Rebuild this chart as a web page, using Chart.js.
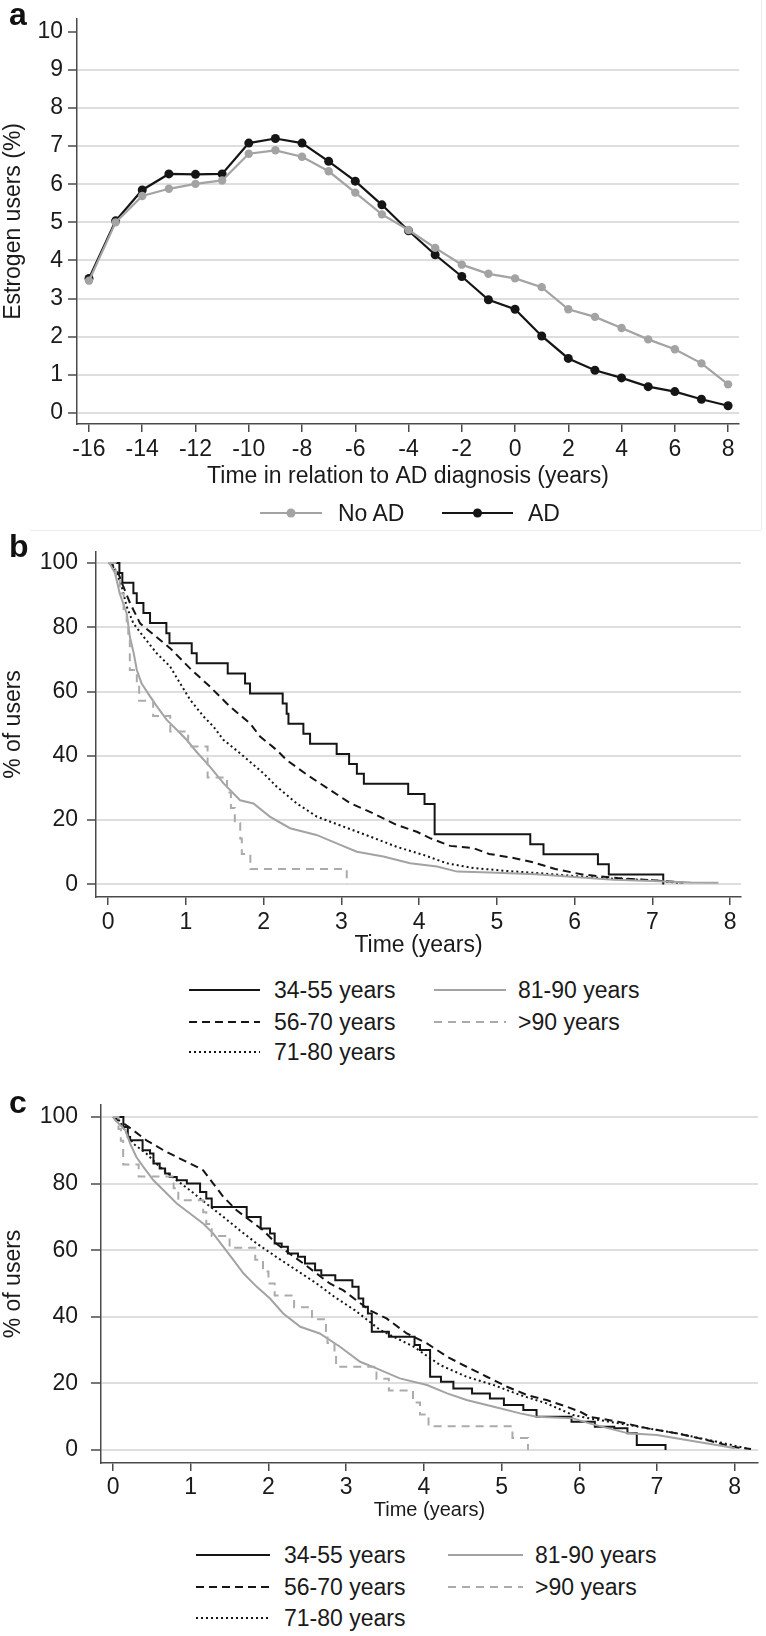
<!DOCTYPE html>
<html>
<head>
<meta charset="utf-8">
<script src="https://cdn.jsdelivr.net/npm/chart.js@4.4.1/dist/chart.umd.min.js"></script>
<style>
html,body{margin:0;padding:0;background:#fff;}
body{width:766px;height:1636px;position:relative;overflow:hidden;font-family:"Liberation Sans",Arial,Helvetica,sans-serif;color:#1a1a1a;}
canvas{position:absolute;left:0;}
.lbl{position:absolute;font-weight:bold;font-size:32px;line-height:32px;color:#111;}
.lt{position:absolute;height:30px;line-height:30px;white-space:nowrap;color:#1a1a1a;}
.sep{position:absolute;background:#ececec;}
</style>
</head>
<body>
<div class="sep" style="left:761px;top:0;width:1px;height:530px;"></div>
<div class="sep" style="left:30px;top:530px;width:731px;height:1px;"></div>
<canvas id="ca" width="766" height="500" style="top:0;width:766px;height:500px;"></canvas>
<canvas id="cb" width="766" height="440" style="top:520px;width:766px;height:440px;"></canvas>
<canvas id="cc" width="766" height="460" style="top:1070px;width:766px;height:460px;"></canvas>
<div class="lbl" style="left:9px;top:-2px;">a</div>
<div class="lbl" style="left:9px;top:530px;">b</div>
<div class="lbl" style="left:9px;top:1086px;">c</div>
<div id="legends"></div>
<script>
// ---------- Panel a data ----------
const yearsA = [-16,-15,-14,-13,-12,-11,-10,-9,-8,-7,-6,-5,-4,-3,-2,-1,0,1,2,3,4,5,6,7,8];
const noAD = [3.47,5.0,5.69,5.88,6.01,6.1,6.8,6.89,6.72,6.34,5.78,5.21,4.8,4.33,3.89,3.65,3.53,3.3,2.72,2.52,2.23,1.93,1.67,1.3,0.75];
const AD   = [3.53,5.04,5.85,6.27,6.26,6.27,7.08,7.2,7.08,6.6,6.08,5.46,4.78,4.15,3.58,2.97,2.72,2.02,1.43,1.12,0.92,0.69,0.56,0.36,0.19];
const xTicksA = [-16,-14,-12,-10,-8,-6,-4,-2,0,2,4,6,8];
const yTicksA = [0,1,2,3,4,5,6,7,8,9,10];
const legendA = ['No AD','AD'];

// ---------- Panel b data (time in years, % of users) ----------
const b3455_t = [0,0.146,0.184,0.326,0.369,0.455,0.54,0.75,0.79,1.076,1.14,1.539,1.762,1.826,2.246,2.297,2.32,2.512,2.598,2.94,3.1,3.2,3.29,3.86,4.07,4.2,5.43,5.6,6.3,6.44,7.14];
const b3455_v = [100,96.9,93.8,90.6,87.5,84.4,81.3,78.1,75,71.9,68.8,65.6,62.5,59.4,56.3,53.1,50,46.9,43.8,40.6,37.5,34.4,31.3,28.1,25,15.6,12.5,9.4,6.3,3.1,0];
const b5670_t = [0,0.026,0.133,0.197,0.283,0.412,0.54,0.797,1.054,1.312,1.569,1.826,1.955,2.169,2.297,2.56,2.855,3.113,3.413,3.713,3.97,4.14,4.4,4.7,4.9,5.2,5.45,5.75,6.1,6.55,7.0,7.4];
const b5670_v = [100,99.9,96.8,92.6,87.5,81.2,78.6,73.5,67.2,61.5,55.3,50.1,46.0,41.8,38.7,34.1,29.4,25.3,22.1,18.5,16.4,14.4,12.0,11.3,9.5,8.3,7.0,4.8,3.1,2.0,1.3,0.6];
const b7180_t = [0,0.05,0.112,0.176,0.24,0.326,0.455,0.626,0.797,0.926,1.054,1.226,1.355,1.483,1.698,1.997,2.17,2.427,2.684,3.027,3.37,3.713,4.055,4.355,4.7,5.13,5.6,6.0,6.5,7.0,7.35];
const b7180_v = [100,99.9,96.8,92.6,86.4,81.2,77.1,71.9,67.8,62.6,57.5,52.3,49.1,45.0,40.8,34.6,30.4,25.2,21.1,18.0,14.9,11.7,9.2,6.6,5.1,4.2,3.4,2.6,1.8,1.3,0.5];
const b8190_t = [0,0.02,0.09,0.15,0.24,0.28,0.33,0.37,0.43,0.54,0.63,0.755,0.883,1.01,1.14,1.312,1.483,1.698,1.87,2.08,2.34,2.68,2.94,3.2,3.54,3.885,4.23,4.49,4.91,5.5,6.0,6.5,7.0,7.5,7.85];
const b8190_v = [100,99.9,96.8,90.5,84.3,77.1,71.9,66.7,62.6,58.5,55.3,51.2,48.1,45.0,41.2,36.6,31.5,26.2,25.2,21.1,17.5,15.4,12.8,10.2,8.7,6.6,5.6,4.0,3.7,3.2,2.3,1.5,1.1,0.6,0.5];
const b90_t = [0,0.1,0.15,0.2,0.24,0.26,0.28,0.37,0.4,0.58,0.8,1.03,1.28,1.53,1.58,1.63,1.7,1.72,1.83,3.07];
const b90_v = [100,95.2,90.5,85.7,81.0,76.2,66.7,61.9,57.1,52.4,47.6,42.9,33.3,28.6,23.8,19.0,14.3,9.5,4.8,0];

// ---------- Panel c data ----------
const c3455_t = [0,0.133,0.19,0.22,0.38,0.476,0.52,0.6,0.67,0.73,0.82,0.95,1.12,1.2,1.27,1.72,1.9,2.02,2.08,2.17,2.25,2.38,2.47,2.6,2.68,2.86,3.08,3.16,3.22,3.28,3.33,3.55,3.88,3.95,4.08,4.22,4.38,4.62,4.85,5.03,5.28,5.45,5.9,6.2,6.45,6.62,6.74,7.11];
const c3455_v = [100,97,94,93,90,89,86,84.5,83,82,81,80,77.5,75.5,73,70,66.5,65,62,61,59,58,56,54,52.5,51,49,45.5,43,41,35.5,34,31.5,30,22,20.5,18.5,17,15.5,13.5,12,10,8.5,7,6.5,5,1.5,0];
const c5670_t = [0,0.112,0.26,0.43,0.65,0.86,1.08,1.16,1.29,1.42,1.59,1.76,1.93,2.1,2.27,2.45,2.62,2.79,2.96,3.13,3.3,3.52,3.78,4.04,4.3,4.55,4.81,5.07,5.33,5.58,5.84,6.01,6.13,6.5,6.88,7.26,7.64,7.96,8.21];
const c5670_v = [100,98.5,96,93,90,87.5,85,84,80,76,72,69,66,62,59,56,53,50,48,45,42,39.5,35,32,28,25,22,19,16.5,15,13,11.5,10,8.5,6.5,5,3,1,0.3];
const c7180_t = [0,0.09,0.18,0.26,0.43,0.6,0.82,0.99,1.2,1.42,1.63,1.85,2.1,2.36,2.62,2.86,3.11,3.44,3.87,4.21,4.55,4.9,5.24,5.58,5.92,6.13,6.76,7.26,7.77,8.15];
const c7180_v = [100,98.5,95,92,89,85,81,78,74,70,66,62,58,54,50,45.8,42,36,31,25.5,22,19.5,16.5,14,10.5,9.5,7,5,2.5,0.5];
const c8190_t = [0,0.03,0.16,0.22,0.3,0.39,0.52,0.65,0.82,0.99,1.16,1.29,1.42,1.55,1.68,1.85,2.02,2.19,2.41,2.66,2.92,3.18,3.39,3.69,4.04,4.3,4.55,4.9,5.24,5.45,5.92,6.13,6.63,7.0,7.38,7.9,8.0];
const c8190_v = [100,99,96,92,88,85,81,78,74,71,68,65,61,57,53,49,45.5,41,37,35,31,26.5,24.5,21.5,19.5,17,15,13,11,10,9.5,8,5,4.5,3,1,0.5];
const c90_t = [0,0.07,0.1,0.13,0.33,0.78,0.84,1.16,1.2,1.27,1.5,1.83,1.93,2.0,2.08,2.33,2.56,2.74,2.76,2.85,2.87,3.39,3.55,3.86,3.95,4.06,5.14,5.34];
const c90_v = [100,96.4,92.9,85.7,82.1,78.6,75,71.4,67.9,64.3,60.7,57.1,53.6,50,46.4,42.9,39.3,35.7,32.1,28.6,25,21.4,17.9,14.3,10.7,7.1,3.6,0];

const xTicksKM = [0,1,2,3,4,5,6,7,8];
const yTicksKM = [0,20,40,60,80,100];
const legendKM = ['34-55 years','56-70 years','71-80 years','81-90 years','>90 years'];

// ---------- styles ----------
const FONT = '"Liberation Sans", Arial, Helvetica, sans-serif';
Chart.defaults.font.family = FONT;
Chart.defaults.color = '#1a1a1a';
Chart.defaults.animation = false;
const BLACK = '#151515', GRAY = '#a3a3a3', GRAY2 = '#ababab', GRID = '#dedede', AXIS = '#4a4a4a';
const SOLID = [], DASH = [8,5], DOT = [2,3], GDASH = [8,6];

const pts = (t, v) => t.map((x, i) => ({x: x, y: v[i]}));

function axes(cfg) {
  return {
    x: {
      type: 'linear', min: cfg.xmin, max: cfg.xmax,
      afterBuildTicks: s => { s.ticks = cfg.xticks.map(v => ({value: v})); },
      afterFit: s => { s.height = cfg.xh; },
      ticks: {font: {size: 23}, padding: cfg.xpad, maxRotation: 0, autoSkip: false, color: '#1a1a1a'},
      grid: {drawOnChartArea: false, drawTicks: true, tickLength: 8, tickColor: AXIS, lineWidth: 1.5},
      border: {display: true, color: AXIS, width: 1.5},
      title: {display: true, text: cfg.xtitle, font: {size: cfg.xtsize}, padding: {top: 0, bottom: cfg.xtpad}, color: '#1a1a1a'}
    },
    y: {
      type: 'linear', min: cfg.ymin, max: cfg.ymax,
      afterBuildTicks: s => { s.ticks = cfg.yticks.map(v => ({value: v})); },
      afterFit: s => { s.width = cfg.yw; },
      ticks: {font: {size: 23}, padding: cfg.ypad, autoSkip: false, color: '#1a1a1a'},
      grid: {
        color: c => (cfg.nogrid !== undefined && c.tick && c.tick.value === cfg.nogrid) ? 'rgba(0,0,0,0)' : GRID,
        lineWidth: 2, drawTicks: true, tickLength: cfg.ytl, tickColor: AXIS, tickWidth: 1.5
      },
      border: {display: true, color: AXIS, width: 1.5},
      title: {display: true, text: cfg.ytitle, font: {size: 23}, padding: {top: 0, bottom: 0}, color: '#1a1a1a'}
    }
  };
}

function line(label, t, v, color, dash, stepped, width) {
  return {label: label, data: pts(t, v), borderColor: color, backgroundColor: color,
    borderDash: dash, borderWidth: width || 2, pointRadius: 0, stepped: stepped ? 'before' : false,
    tension: 0, fill: false, borderCapStyle: 'butt', borderJoinStyle: 'miter'};
}

const common = {responsive: false, maintainAspectRatio: false, animation: false, devicePixelRatio: 1,
  plugins: {legend: {display: false}, tooltip: {enabled: false}}, events: []};

// Panel a
new Chart(document.getElementById('ca'), {
  type: 'line',
  data: {datasets: [
    {label: legendA[0], data: pts(yearsA, noAD), borderColor: GRAY, backgroundColor: GRAY, borderWidth: 2.2,
     pointRadius: 4.2, pointBorderWidth: 0, pointBackgroundColor: GRAY, tension: 0},
    {label: legendA[1], data: pts(yearsA, AD), borderColor: BLACK, backgroundColor: BLACK, borderWidth: 2.2,
     pointRadius: 4.5, pointBorderWidth: 0, pointBackgroundColor: BLACK, tension: 0}
  ]},
  options: Object.assign({}, common, {
    layout: {padding: {top: 17, right: 27, bottom: 0, left: 0}},
    scales: axes({xmin: -16.45, xmax: 8.41, xticks: xTicksA, xh: 76, xpad: 4, xtitle: 'Time in relation to AD diagnosis (years)', xtsize: 23, xtpad: 10,
                  ymin: -0.29, ymax: 10.34, yticks: yTicksA, yw: 77, ypad: 5, ytl: 9, ytitle: 'Estrogen users (%)', nogrid: 10})
  })
});

// Panel b
new Chart(document.getElementById('cb'), {
  type: 'line',
  data: {datasets: [
    line(legendKM[4], b90_t, b90_v, GRAY2, GDASH, true, 2),
    line(legendKM[3], b8190_t, b8190_v, GRAY, SOLID, false, 2),
    line(legendKM[2], b7180_t, b7180_v, BLACK, DOT, false, 2),
    line(legendKM[1], b5670_t, b5670_v, BLACK, DASH, false, 2),
    line(legendKM[0], b3455_t, b3455_v, BLACK, SOLID, true, 2)
  ]},
  options: Object.assign({}, common, {
    layout: {padding: {top: 32, right: 25, bottom: 0, left: 0}},
    scales: axes({xmin: -0.155, xmax: 8.14, xticks: xTicksKM, xh: 63, xpad: 4, xtitle: 'Time (years)', xtsize: 23, xtpad: 1,
                  ymin: -3.9, ymax: 103.4, yticks: yTicksKM, yw: 96, ypad: 9, ytl: 9, ytitle: '% of users'})
  })
});

// Panel c
new Chart(document.getElementById('cc'), {
  type: 'line',
  data: {datasets: [
    line(legendKM[4], c90_t, c90_v, GRAY2, GDASH, true, 2),
    line(legendKM[3], c8190_t, c8190_v, GRAY, SOLID, false, 2),
    line(legendKM[2], c7180_t, c7180_v, BLACK, DOT, false, 2),
    line(legendKM[1], c5670_t, c5670_v, BLACK, DASH, false, 2),
    line(legendKM[0], c3455_t, c3455_v, BLACK, SOLID, true, 2)
  ]},
  options: Object.assign({}, common, {
    layout: {padding: {top: 35, right: 8, bottom: 0, left: 0}},
    scales: axes({xmin: -0.155, xmax: 8.3, xticks: xTicksKM, xh: 67, xpad: 3, xtitle: 'Time (years)', xtsize: 20, xtpad: 8,
                  ymin: -3.9, ymax: 103.6, yticks: yTicksKM, yw: 101, ypad: 13, ytl: 10, ytitle: '% of users'})
  })
});

// ---------- HTML legends ----------
const host = document.getElementById('legends');
function legendItem(x1, x2, y, color, dash, dot, text, tx, size) {
  const w = x2 - x1;
  const ns = 'http://www.w3.org/2000/svg';
  const svg = document.createElementNS(ns, 'svg');
  svg.setAttribute('width', w); svg.setAttribute('height', 16);
  svg.style.position = 'absolute'; svg.style.left = x1 + 'px'; svg.style.top = (y - 8) + 'px';
  const ln = document.createElementNS(ns, 'line');
  ln.setAttribute('x1', 0); ln.setAttribute('y1', 8); ln.setAttribute('x2', w); ln.setAttribute('y2', 8);
  ln.setAttribute('stroke', color); ln.setAttribute('stroke-width', 2.2);
  if (dash && dash.length) ln.setAttribute('stroke-dasharray', dash.join(','));
  svg.appendChild(ln);
  if (dot) {
    const c = document.createElementNS(ns, 'circle');
    c.setAttribute('cx', w / 2); c.setAttribute('cy', 8); c.setAttribute('r', 4.5); c.setAttribute('fill', color);
    svg.appendChild(c);
  }
  host.appendChild(svg);
  const d = document.createElement('div');
  d.className = 'lt'; d.textContent = text;
  d.style.left = tx + 'px'; d.style.top = (y - 15) + 'px'; d.style.fontSize = size + 'px';
  host.appendChild(d);
}
// panel a
legendItem(260, 322, 513, GRAY, null, true, legendA[0], 338, 23);
legendItem(442, 513, 513, BLACK, null, true, legendA[1], 528, 23);
// panel b
const kmStyles = [[BLACK, SOLID], [BLACK, DASH], [BLACK, DOT], [GRAY, SOLID], [GRAY2, GDASH]];
const bRows = [990, 1022, 1052], cRows = [1555, 1587, 1618];
[[0,0],[1,1],[2,2],[3,0],[4,1]].forEach(([k, r]) => {
  const col2 = k >= 3;
  legendItem(col2 ? 434 : 189, col2 ? 506 : 260, bRows[r], kmStyles[k][0], kmStyles[k][1], false, legendKM[k], col2 ? 518 : 274, 23);
  legendItem(col2 ? 448 : 196, col2 ? 523 : 270, cRows[r], kmStyles[k][0], kmStyles[k][1], false, legendKM[k], col2 ? 535 : 284, 23);
});
</script>
</body>
</html>
